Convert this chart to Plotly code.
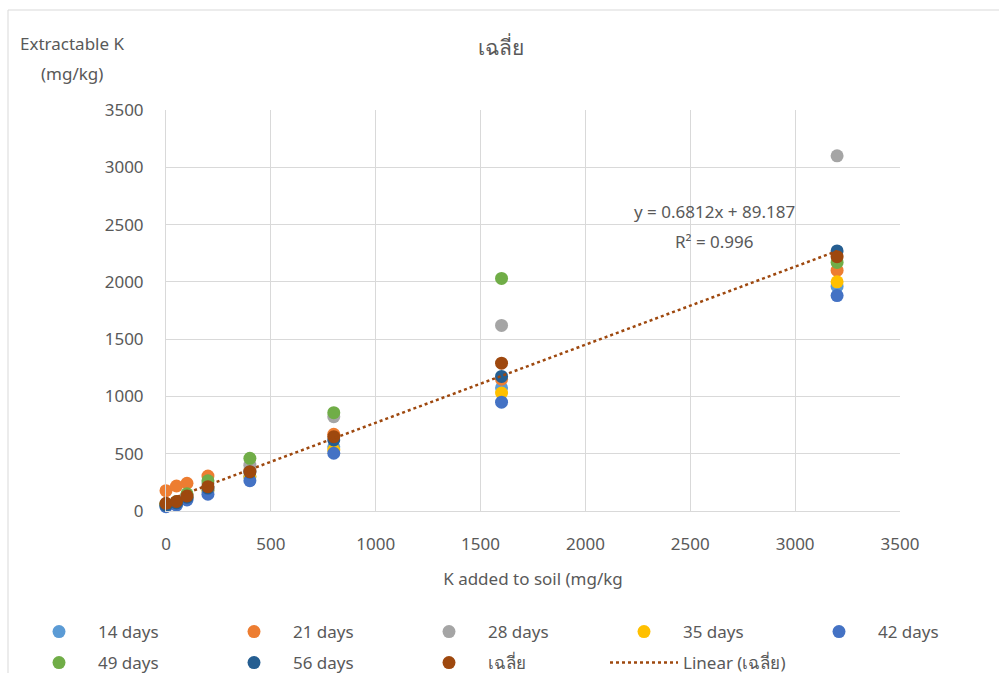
import plotly.graph_objects as go

# ---- data ----
k_added = [0, 50, 100, 200, 400, 800, 1600, 3200]
days14 = [45, 60, 110, 180, 300, 560, 1075, 1960]
days21 = [177, 218, 242, 305, 360, 670, 1150, 2100]
days28 = [60, 80, 140, 240, 400, 823, 1620, 3100]
days35 = [55, 65, 115, 180, 300, 532, 1030, 2000]
days42 = [38, 52, 96, 146, 265, 504, 950, 1880]
days49 = [60, 80, 150, 264, 460, 858, 2030, 2170]
days56 = [50, 70, 120, 200, 340, 620, 1175, 2270]
average = [67, 83, 131, 212, 343, 649, 1290, 2220]
trend_slope = 0.6812
trend_intercept = 89.187
trend_x = [0, 3200]

series = [
    ("14 days", days14, "#5B9BD5", "legend"),
    ("21 days", days21, "#ED7D31", "legend"),
    ("28 days", days28, "#A5A5A5", "legend"),
    ("35 days", days35, "#FFC000", "legend"),
    ("42 days", days42, "#4472C4", "legend"),
    ("49 days", days49, "#70AD47", "legend2"),
    ("56 days", days56, "#255E91", "legend2"),
    ("เฉลี่ย", average, "#9E480E", "legend2"),
]

FONT = "Noto Sans, Tahoma, sans-serif"
TXT = "#595959"
FS = 17

fig = go.Figure()
for name, vals, col, lg in series:
    fig.add_trace(go.Scatter(x=k_added, y=vals, mode="markers", name=name, legend=lg,
                             cliponaxis=False,
                             marker=dict(color=col, size=13, line=dict(width=0))))

trend_y = [trend_slope * x + trend_intercept for x in trend_x]
fig.add_trace(go.Scatter(x=trend_x, y=trend_y, mode="lines", name="Linear (เฉลี่ย)",
                         legend="legend2",
                         line=dict(color="#9E480E", width=2.5, dash="dot")))

W, H = 999, 673
L, T, B = 166, 110, 162
R = 0
plot_right = 900
pw_paper = W - L - R
ph = H - T - B

def px(xp):
    return (xp - L) / pw_paper

def py(yp):
    return (H - B - yp) / ph

leg_common = dict(orientation="h", xanchor="left", yanchor="middle",
                  entrywidth=112, entrywidthmode="pixels", itemwidth=68,
                  font=dict(size=FS, color=TXT), bgcolor="rgba(0,0,0,0)")

fig.update_layout(
    width=W, height=H,
    margin=dict(l=L, r=R, t=T, b=B, autoexpand=False),
    paper_bgcolor="white", plot_bgcolor="white",
    font=dict(family=FONT, size=FS, color=TXT),
    title=dict(text="เฉลี่ย", x=px(501), xref="paper", xanchor="center",
               y=1 - 48 / H, yanchor="middle", font=dict(size=21, color=TXT)),
    xaxis=dict(domain=[0, px(plot_right)], range=[0, 3500], dtick=500, showgrid=True,
               gridcolor="#D9D9D9", showline=True, linecolor="#D9D9D9", zeroline=False,
               ticks="", ticklabelstandoff=18,
               title=dict(text="K added to soil (mg/kg", standoff=18,
                          font=dict(size=FS, color=TXT))),
    yaxis=dict(range=[0, 3500], dtick=500, showgrid=True, gridcolor="#D9D9D9",
               showline=True, linecolor="#D9D9D9", zeroline=False, ticks="",
               ticklabelstandoff=18),
    legend=dict(x=px(20), y=py(632), **leg_common),
    legend2=dict(x=px(20), y=py(663), **leg_common),
    showlegend=True,
)

fig.add_annotation(text="Extractable K", xref="paper", yref="paper",
                   x=px(72), y=py(43), xanchor="center", yanchor="middle",
                   showarrow=False, font=dict(size=FS, color=TXT))
fig.add_annotation(text="(mg/kg)", xref="paper", yref="paper",
                   x=px(72), y=py(73), xanchor="center", yanchor="middle",
                   showarrow=False, font=dict(size=FS, color=TXT))
fig.add_annotation(text="y = 0.6812x + 89.187", xref="paper", yref="paper",
                   x=px(714), y=py(211), xanchor="center", yanchor="middle",
                   showarrow=False, font=dict(size=FS, color=TXT))
fig.add_annotation(text="R² = 0.996", xref="paper", yref="paper",
                   x=px(714), y=py(241), xanchor="center", yanchor="middle",
                   showarrow=False, font=dict(size=FS, color=TXT))

fig.add_shape(type="rect", xref="paper", yref="paper",
              x0=px(8), x1=px(1020), y0=py(700), y1=py(10),
              line=dict(color="#D9D9D9", width=1), fillcolor="rgba(0,0,0,0)", layer="below")

fig.write_html("out.html", config={"displayModeBar": False},
               post_script="document.body.style.margin='0px';")
